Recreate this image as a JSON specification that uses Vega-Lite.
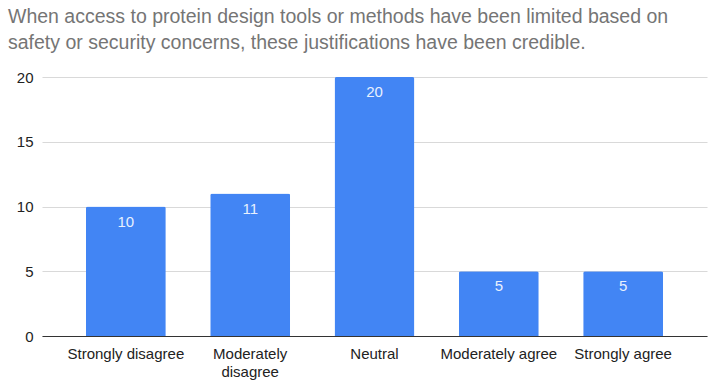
{
  "$schema": "https://vega.github.io/schema/vega-lite/v6.json",
  "autosize": "none",
  "width": 665,
  "height": 259,
  "padding": {"left": 42, "top": 77, "right": 10, "bottom": 50},
  "background": "white",
  "title": {
    "text": ["When access to protein design tools or methods have been limited based on", "safety or security concerns, these justifications have been credible."],
    "anchor": "start",
    "frame": "group",
    "dx": -34,
    "offset": 17,
    "font": "Liberation Sans",
    "fontSize": 19.5,
    "fontWeight": "normal",
    "color": "#757575",
    "lineHeight": 26
  },
  "data": {
    "values": [
      {"response": "Strongly disagree", "count": 10},
      {"response": "Moderately disagree", "count": 11},
      {"response": "Neutral", "count": 20},
      {"response": "Moderately agree", "count": 5},
      {"response": "Strongly agree", "count": 5}
    ]
  },
  "encoding": {
    "x": {
      "field": "response",
      "type": "nominal",
      "sort": null,
      "scale": {"paddingInner": 0.357, "paddingOuter": 0.353},
      "axis": {
        "title": null,
        "labelAngle": 0,
        "labelFont": "Liberation Sans",
        "labelFontSize": 15,
        "labelColor": "#222222",
        "labelPadding": 10,
        "ticks": false,
        "domainColor": "#333333",
        "domainWidth": 1,
        "labelLineHeight": 18,
        "labelExpr": "datum.label == 'Moderately disagree' ? ['Moderately', 'disagree'] : datum.label"
      }
    },
    "y": {
      "field": "count",
      "type": "quantitative",
      "scale": {"domain": [0, 20], "nice": false},
      "axis": {
        "title": null,
        "values": [0, 5, 10, 15, 20],
        "domain": false,
        "ticks": false,
        "labelPadding": 9,
        "labelFont": "Liberation Sans",
        "labelFontSize": 15,
        "labelColor": "#222222",
        "gridColor": "#d9d9d9",
        "gridWidth": 1
      }
    }
  },
  "layer": [
    {
      "mark": {"type": "bar", "color": "#4285F4", "cornerRadiusTopLeft": 2, "cornerRadiusTopRight": 2}
    },
    {
      "mark": {"type": "text", "baseline": "middle", "dy": 15, "font": "Liberation Sans", "fontSize": 15, "color": "#e8f0fe"},
      "encoding": {"text": {"field": "count", "type": "quantitative"}}
    }
  ],
  "config": {"view": {"stroke": null}}
}
